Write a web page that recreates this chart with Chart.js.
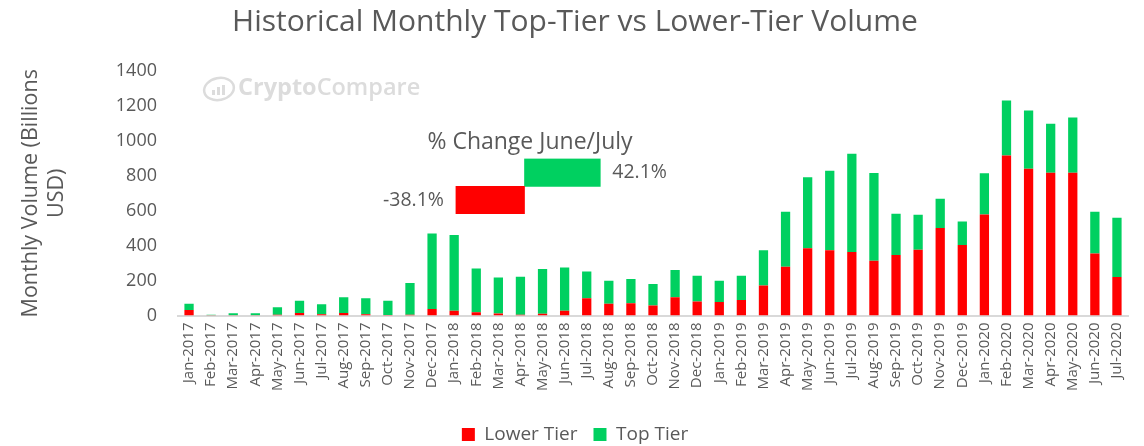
<!DOCTYPE html>
<html>
<head>
<meta charset="utf-8">
<script src="https://cdn.jsdelivr.net/npm/chart.js@4.4.0/dist/chart.umd.min.js"></script>
<style>
    body { margin: 0; background: #fff; }
    #wrap { position: relative; width: 1144px; height: 446px; }
    #mainChart { position: absolute; left: 0; top: 0; }
    #changeChart { position: absolute; left: 360px; top: 126px; }
</style>
</head>
<body>
<div id="wrap">
    <canvas id="mainChart" width="1144" height="446"></canvas>
    <canvas id="changeChart" width="340" height="94"></canvas>
</div>
<script>
// ============================================
// DATA
// ============================================

const months = [
    'Jan-2017', 'Feb-2017', 'Mar-2017', 'Apr-2017', 'May-2017', 'Jun-2017', 'Jul-2017', 'Aug-2017', 'Sep-2017', 'Oct-2017', 'Nov-2017', 'Dec-2017',
    'Jan-2018', 'Feb-2018', 'Mar-2018', 'Apr-2018', 'May-2018', 'Jun-2018', 'Jul-2018', 'Aug-2018', 'Sep-2018', 'Oct-2018', 'Nov-2018', 'Dec-2018',
    'Jan-2019', 'Feb-2019', 'Mar-2019', 'Apr-2019', 'May-2019', 'Jun-2019', 'Jul-2019', 'Aug-2019', 'Sep-2019', 'Oct-2019', 'Nov-2019', 'Dec-2019',
    'Jan-2020', 'Feb-2020', 'Mar-2020', 'Apr-2020', 'May-2020', 'Jun-2020', 'Jul-2020'
];

// Billions USD
const lowerTier = [
    32, 1, 1, 1, 5, 15, 8, 15, 8, 3, 5, 38,
    28, 19, 12, 5, 10, 28, 99, 67, 70, 57, 104, 81,
    78, 89, 172, 279, 385, 374, 363, 313, 347, 376, 501, 404,
    579, 916, 841, 818, 818, 355, 220
];

const topTier = [
    35, 4, 12, 12, 42, 70, 56, 89, 91, 82, 181, 432,
    433, 250, 206, 217, 256, 247, 153, 132, 139, 123, 156, 147,
    121, 139, 202, 315, 406, 455, 563, 503, 235, 201, 167, 135,
    235, 315, 333, 280, 316, 239, 340
];

const yMin = 0;
const yMax = 1400;
const yStep = 200;

// % change June/July inset
const changeLabels = ['Top Tier', 'Lower Tier'];
const changeValues = [42.1, -38.1];

const RED = '#ff0000';
const GREEN = '#00d060';
const TEXT = '#595959';

Chart.defaults.font.family = "'Open Sans', sans-serif";

// ============================================
// PLUGINS
// ============================================

// CryptoCompare watermark
const watermark = {
    id: 'watermark',
    beforeDatasetsDraw(chart) {
        const ctx = chart.ctx;
        ctx.save();
        ctx.strokeStyle = '#dcdcdc';
        ctx.lineWidth = 2.5;
        ctx.beginPath();
        ctx.ellipse(219, 89, 15, 11, -0.2, 0, Math.PI * 2);
        ctx.stroke();
        ctx.fillStyle = '#dcdcdc';
        ctx.fillRect(212, 90, 3, 5);
        ctx.fillRect(217, 87, 3, 8);
        ctx.fillRect(222, 85, 3, 10);
        ctx.textBaseline = 'middle';
        ctx.font = "bold 23.5px 'Open Sans', sans-serif";
        ctx.fillText('Crypto', 238, 88);
        const w = ctx.measureText('Crypto').width;
        ctx.font = "600 23.5px 'Open Sans', sans-serif";
        ctx.fillText('Compare', 238 + w, 88);
        ctx.restore();
    }
};

// Percent labels beside the inset bars
const changeLabelsPlugin = {
    id: 'changeLabels',
    afterDatasetsDraw(chart) {
        const ctx = chart.ctx;
        const meta = chart.getDatasetMeta(0);
        ctx.save();
        ctx.fillStyle = TEXT;
        ctx.font = "19.5px 'Open Sans', sans-serif";
        ctx.textBaseline = 'middle';
        meta.data.forEach((bar, i) => {
            const v = changeValues[i];
            const txt = v.toFixed(1) + '%';
            if (v < 0) {
                ctx.textAlign = 'right';
                ctx.fillText(txt, bar.x - 12, bar.y);
            } else {
                ctx.textAlign = 'left';
                ctx.fillText(txt, bar.x + 12, bar.y);
            }
        });
        ctx.restore();
    }
};

// ============================================
// MAIN CHART
// ============================================

new Chart(document.getElementById('mainChart'), {
    type: 'bar',
    data: {
        labels: months,
        datasets: [
            {
                label: 'Lower Tier',
                data: lowerTier,
                backgroundColor: RED,
                borderWidth: 0,
                barPercentage: 0.42,
                categoryPercentage: 1
            },
            {
                label: 'Top Tier',
                data: topTier,
                backgroundColor: GREEN,
                borderWidth: 0,
                barPercentage: 0.42,
                categoryPercentage: 1
            }
        ]
    },
    options: {
        responsive: false,
        animation: false,
        layout: { padding: { left: 22, right: 16, top: 0, bottom: -8 } },
        plugins: {
            title: {
                display: true,
                text: 'Historical Monthly Top-Tier vs Lower-Tier Volume',
                color: TEXT,
                font: { size: 30, weight: 'normal' },
                padding: { top: 4, bottom: 31 }
            },
            legend: {
                position: 'bottom',
                labels: {
                    color: TEXT,
                    font: { size: 19 },
                    boxWidth: 13,
                    boxHeight: 13,
                    padding: 16
                }
            },
            tooltip: { enabled: false }
        },
        scales: {
            x: {
                stacked: true,
                grid: { display: false, drawTicks: false },
                border: { color: '#d9d9d9', width: 2 },
                ticks: {
                    autoSkip: false,
                    minRotation: 90,
                    maxRotation: 90,
                    color: TEXT,
                    font: { size: 15 },
                    padding: 7
                },
                afterFit(scale) {
                    scale.height += 11;
                }
            },
            y: {
                stacked: true,
                min: yMin,
                max: yMax,
                grid: { display: false, drawTicks: false },
                border: { display: false },
                ticks: {
                    stepSize: yStep,
                    color: TEXT,
                    font: { size: 18 },
                    padding: 21,
                    callback: (value) => String(value)
                },
                title: {
                    display: true,
                    text: ['Monthly Volume (Billions', 'USD)'],
                    color: TEXT,
                    font: { size: 21.5 },
                    padding: { top: -4, bottom: 0 }
                },
                afterFit(scale) {
                    scale.width = 156;
                }
            }
        }
    },
    plugins: [watermark]
});

// ============================================
// INSET: % CHANGE JUNE/JULY
// ============================================

new Chart(document.getElementById('changeChart'), {
    type: 'bar',
    data: {
        labels: changeLabels,
        datasets: [{
            data: changeValues,
            backgroundColor: [GREEN, RED],
            borderWidth: 0,
            barPercentage: 1,
            categoryPercentage: 1
        }]
    },
    options: {
        indexAxis: 'y',
        responsive: false,
        animation: false,
        layout: { padding: { bottom: 6 } },
        plugins: {
            legend: { display: false },
            tooltip: { enabled: false },
            title: {
                display: true,
                text: '% Change June/July',
                color: TEXT,
                font: { size: 23, weight: 'normal' },
                padding: { top: 3, bottom: 2 }
            }
        },
        scales: {
            x: { display: false, min: -91.4, max: 97.5 },
            y: { display: false }
        }
    },
    plugins: [changeLabelsPlugin]
});
</script>
</body>
</html>
